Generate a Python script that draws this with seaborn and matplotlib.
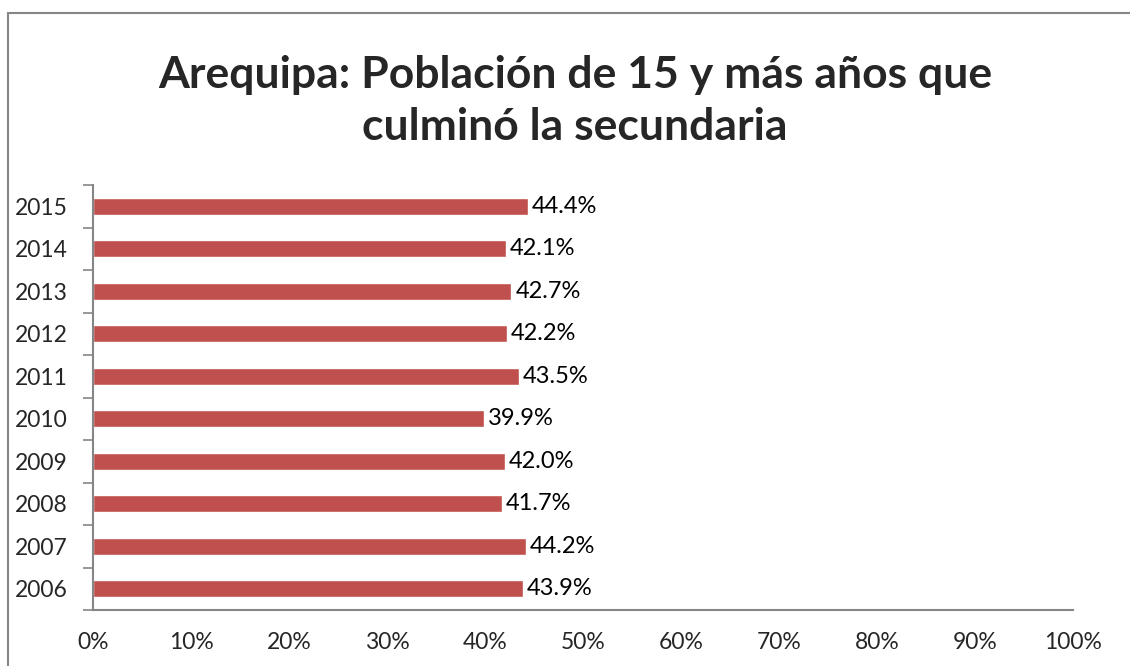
import matplotlib
matplotlib.use("Agg")
import matplotlib.pyplot as plt
import matplotlib.ticker as ticker
import seaborn as sns
import pandas as pd

# data
years = ["2015", "2014", "2013", "2012", "2011", "2010", "2009", "2008", "2007", "2006"]
values = [44.4, 42.1, 42.7, 42.2, 43.5, 39.9, 42.0, 41.7, 44.2, 43.9]
xticks = [0, 10, 20, 30, 40, 50, 60, 70, 80, 90, 100]

df = pd.DataFrame({"year": years, "pct": values})

sns.set_style("white")
plt.rcParams["font.family"] = ["Lato", "DejaVu Sans"]

fig = plt.figure(figsize=(11.3, 6.66), dpi=100)
ax = fig.add_axes([93 / 1130, 1 - 610 / 666, 980 / 1130, 425 / 666])

sns.barplot(data=df, x="pct", y="year", color="#C0504D", saturation=1,
            width=0.4, orient="h", ax=ax)

for i, v in enumerate(values):
    ax.text(v + 0.4, i, f"{v:.1f}%", va="center", ha="left", fontsize=17, color="black")

ax.set_xlim(0, 100)
ax.set_ylim(9.5, -0.5)
ax.set_xticks(xticks)
ax.xaxis.set_major_formatter(ticker.FuncFormatter(lambda x, p: f"{x:.0f}%"))
ax.tick_params(axis="x", length=0, pad=16, labelsize=16.5)
ax.set_yticks([i - 0.5 for i in range(11)], minor=False)
ax.set_yticklabels([])
ax.set_yticks(range(10), minor=True)
ax.set_yticklabels(years, minor=True)
ax.tick_params(axis="y", which="major", length=7, width=1.2, color="#868686", left=True)
ax.tick_params(axis="y", which="minor", length=0, pad=18.5, labelsize=16.5)
ax.set_xlabel("")
ax.set_ylabel("")

for s in ["top", "right"]:
    ax.spines[s].set_visible(False)
for s in ["left", "bottom"]:
    ax.spines[s].set_color("#868686")
    ax.spines[s].set_linewidth(1.5)

fig.text(0.509, 1 - 75 / 666, "Arequipa: Población de 15 y más años que",
         ha="center", va="center", fontsize=32, fontweight="bold")
fig.text(0.509, 1 - 127 / 666, "culminó la secundaria",
         ha="center", va="center", fontsize=32, fontweight="bold")

border = plt.Rectangle((8 / 1130, -0.05), 1.2, 1 - 13 / 666 + 0.05,
                       transform=fig.transFigure, fill=False,
                       edgecolor="#868686", linewidth=1.5)
fig.add_artist(border)

fig.savefig("out.png", dpi=100)
